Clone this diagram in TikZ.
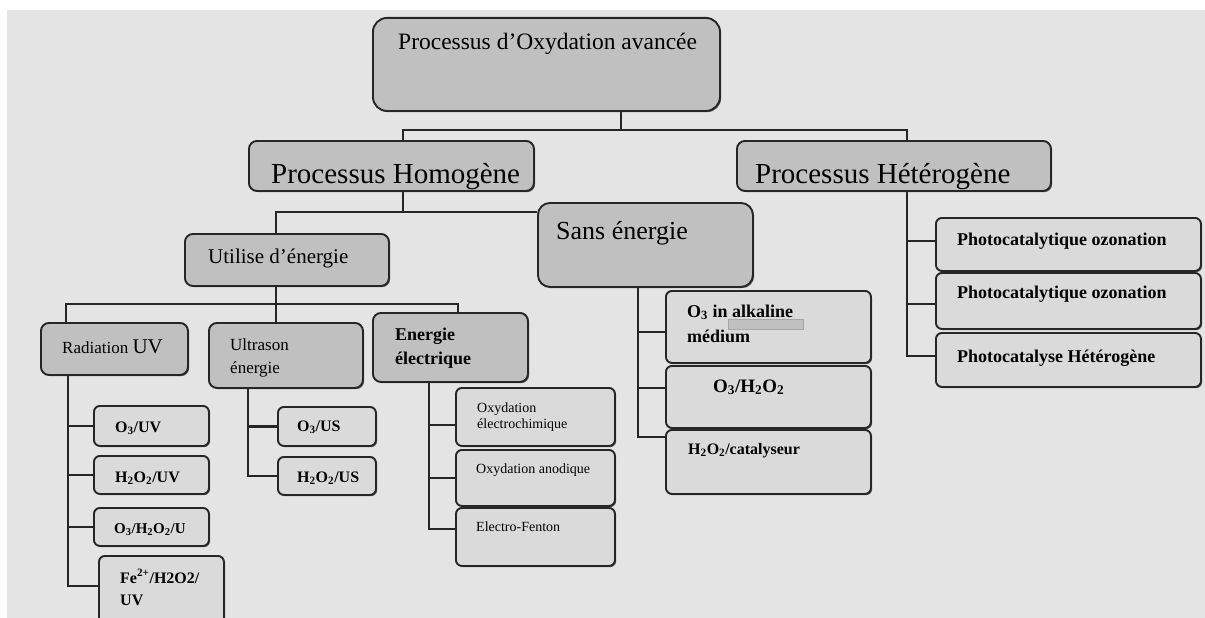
\documentclass[tikz,border=0pt]{standalone}
\usepackage{fontspec}
\setmainfont{Liberation Serif}
\usetikzlibrary{shadows}
\definecolor{bgcol}{HTML}{E4E4E4}
\definecolor{boxdark}{HTML}{C0C0C0}
\definecolor{boxlight}{HTML}{DADADA}
\definecolor{linecol}{HTML}{262626}
\newcommand\setfs[1]{\fontsize{#1}{#1}\selectfont}
\tikzset{
  lvl/.style={draw=linecol, line width=1.9pt, rounded corners=8pt, fill=boxdark,
    inner sep=0pt, anchor=north west,
    drop shadow={shadow xshift=1.2pt, shadow yshift=-1.2pt, opacity=0.55, fill=black}},
  leaf/.style={lvl, fill=boxlight, rounded corners=6pt},
  txt/.style={anchor=base west, inner sep=0pt, text=black},
  conn/.style={draw=linecol, line width=2.2pt},
}
\begin{document}
\begin{tikzpicture}[x=1pt, y=-1pt]
\useasboundingbox (0,0) rectangle (1205,618);
\fill[bgcol] (7,10) rectangle (1205,618);

% ---------- boxes ----------
\node[lvl, rounded corners=14pt, minimum width=347pt, minimum height=93pt] (top) at (372,17) {};
\node[lvl, minimum width=285pt, minimum height=50pt] (homo) at (248,140) {};
\node[lvl, minimum width=314pt, minimum height=50pt] (hetero) at (736,140) {};
\node[lvl, rounded corners=12pt, minimum width=215pt, minimum height=84pt] (sans) at (537,202) {};
\node[lvl, minimum width=204pt, minimum height=52pt] (util) at (184,233) {};
\node[lvl, minimum width=147pt, minimum height=52pt] (rad) at (40,322) {};
\node[lvl, minimum width=154pt, minimum height=65pt] (ultra) at (208,322) {};
\node[lvl, minimum width=155pt, minimum height=69pt] (ener) at (372,312) {};

\node[leaf, minimum width=115pt, minimum height=40pt] (uv1) at (93,405) {};
\node[leaf, minimum width=115pt, minimum height=38pt] (uv2) at (93,455) {};
\node[leaf, minimum width=115pt, minimum height=38pt] (uv3) at (93,507) {};
\node[leaf, minimum width=125pt, minimum height=75pt] (uv4) at (98,555) {};

\node[leaf, minimum width=98pt, minimum height=39pt] (us1) at (277,406) {};
\node[leaf, minimum width=98pt, minimum height=38pt] (us2) at (277,456) {};

\node[leaf, minimum width=159pt, minimum height=58pt] (el1) at (455,387) {};
\node[leaf, minimum width=159pt, minimum height=56pt] (el2) at (455,449) {};
\node[leaf, minimum width=159pt, minimum height=58pt] (el3) at (455,507) {};

\node[leaf, minimum width=205pt, minimum height=72pt] (se1) at (665,290) {};
\node[leaf, minimum width=205pt, minimum height=62pt] (se2) at (665,365) {};
\node[leaf, minimum width=205pt, minimum height=64pt] (se3) at (665,429) {};

\node[leaf, minimum width=265pt, minimum height=53pt] (he1) at (935,217) {};
\node[leaf, minimum width=265pt, minimum height=56pt] (he2) at (935,272) {};
\node[leaf, minimum width=265pt, minimum height=54pt] (he3) at (935,332) {};

% ---------- connectors ----------
\draw[conn] ([xshift=74.5pt]top.south) -- ++(0,18) -| ([xshift=11.5pt]homo.north);
\draw[conn] ([xshift=74.5pt]top.south) -- ++(0,18) -| ([xshift=13pt]hetero.north);

\coordinate (hb) at ([xshift=11.5pt]homo.south |- 0,212);
\draw[conn] ([xshift=11.5pt]homo.south) -- (hb);
\draw[conn] ([xshift=-11pt]util.north) |- (sans.west |- hb);

\coordinate (ub) at ([xshift=-11pt]util.south |- 0,304);
\draw[conn] ([xshift=-11pt]util.south) -- (ub);
\draw[conn] ([xshift=-48.5pt]rad.north) |- (ub) -| ([xshift=7.5pt]ener.north);
\draw[conn] (ub) -- ([xshift=-10pt]ultra.north);

% Radiation UV children
\coordinate (rt) at ([xshift=-46.5pt]rad.south);
\coordinate (uv4w) at ([yshift=7.5pt]uv4.west);
\draw[conn] (rt) |- (uv4w);
\foreach \n in {uv1,uv2,uv3} \draw[conn] (\n.west) -- (\n.west -| rt);

% Ultrason children
\coordinate (ust) at ([xshift=-38pt]ultra.south);
\draw[conn] (ust) |- (us2.west);
\draw[conn] (us1.west) -- (us1.west -| ust);

% Energie electrique children
\coordinate (et) at ([xshift=-21.5pt]ener.south);
\coordinate (el1w) at ([yshift=-8pt]el1.west);
\coordinate (el3w) at ([yshift=8pt]el3.west);
\draw[conn] (et) |- (el3w);
\draw[conn] (el1w) -- (el1w -| et);
\draw[conn] (el2.west) -- (el2.west -| et);

% Sans energie children
\coordinate (st) at ([xshift=-7.5pt]sans.south);
\coordinate (se1w) at ([yshift=-5pt]se1.west);
\coordinate (se2w) at ([yshift=9pt]se2.west);
\coordinate (se3w) at ([yshift=25pt]se3.west);
\draw[conn] (st) |- (se3w);
\draw[conn] (se1w) -- (se1w -| st);
\draw[conn] (se2w) -- (se2w -| st);

% Heterogene children
\coordinate (ht) at ([xshift=13pt]hetero.south);
\coordinate (he1w) at ([yshift=3.5pt]he1.west);
\coordinate (he2w) at ([yshift=-3pt]he2.west);
\coordinate (he3w) at ([yshift=4pt]he3.west);
\draw[conn] (ht) |- (he3w);
\draw[conn] (he1w) -- (he1w -| ht);
\draw[conn] (he2w) -- (he2w -| ht);

% small grey mark in the alkaline box
\node[draw=gray!70, fill=boxdark, line width=0.6pt, inner sep=0pt, anchor=north west,
  minimum width=75pt, minimum height=10pt] (mark) at (728,319) {};

% ---------- texts ----------
\node[txt, font=\setfs{23.5}] (ttop) at (398,50) {Processus d’Oxydation avancée};
\node[txt, font=\setfs{29}] (thomo) at (271,183) {Processus Homogène};
\node[txt, font=\setfs{29}] (thet) at (755,183) {Processus Hétérogène};
\node[txt, font=\setfs{26}] (tsans) at (556,239) {Sans énergie};
\node[txt, font=\setfs{21}] (tutil) at (208,263) {Utilise d’énergie};
\node[txt, font=\setfs{17}] (trad) at (62,353) {Radiation {\setfs{21}UV}};
\node[txt, font=\setfs{17}] (tul1) at (230,350) {Ultrason};
\node[txt, font=\setfs{17}] (tul2) at (230,373) {énergie};
\node[txt, font=\bfseries\setfs{18}] (ten1) at (395,340) {Energie};
\node[txt, font=\bfseries\setfs{18}] (ten2) at (395,364) {électrique};

\node[txt, font=\bfseries\setfs{16}] (tuv1) at (115,432) {O\textsubscript{3}/UV};
\node[txt, font=\bfseries\setfs{16}] (tuv2) at (115,482) {H\textsubscript{2}O\textsubscript{2}/UV};
\node[txt, font=\bfseries\setfs{15}] (tuv3) at (114,533) {O\textsubscript{3}/H\textsubscript{2}O\textsubscript{2}/U};
\node[txt, font=\bfseries\setfs{16}] (tuv4a) at (120,583) {Fe\textsuperscript{2+}/H2O2/};
\node[txt, font=\bfseries\setfs{16}] (tuv4b) at (120,605) {UV};

\node[txt, font=\bfseries\setfs{16}] (tus1) at (297,431) {O\textsubscript{3}/US};
\node[txt, font=\bfseries\setfs{16}] (tus2) at (297,482) {H\textsubscript{2}O\textsubscript{2}/US};

\node[txt, font=\setfs{14}] (tel1a) at (477,412) {Oxydation};
\node[txt, font=\setfs{14}] (tel1b) at (477,428) {électrochimique};
\node[txt, font=\setfs{14}] (tel2) at (476,473) {Oxydation anodique};
\node[txt, font=\setfs{14}] (tel3) at (476,531) {Electro-Fenton};

\node[txt, font=\bfseries\setfs{18}] (tse1a) at (687,317) {O\textsubscript{3} in alkaline};
\node[txt, font=\bfseries\setfs{18}] (tse1b) at (687,342) {médium};
\node[txt, font=\bfseries\setfs{19}] (tse2) at (713,392) {O\textsubscript{3}/H\textsubscript{2}O\textsubscript{2}};
\node[txt, font=\bfseries\setfs{16}] (tse3) at (688,454) {H\textsubscript{2}O\textsubscript{2}/catalyseur};

\node[txt, font=\bfseries\setfs{18}] (the1) at (957,245) {Photocatalytique ozonation};
\node[txt, font=\bfseries\setfs{18}] (the2) at (957,298) {Photocatalytique ozonation};
\node[txt, font=\bfseries\setfs{18}] (the3) at (957,362) {Photocatalyse Hétérogène};
\end{tikzpicture}
\end{document}
